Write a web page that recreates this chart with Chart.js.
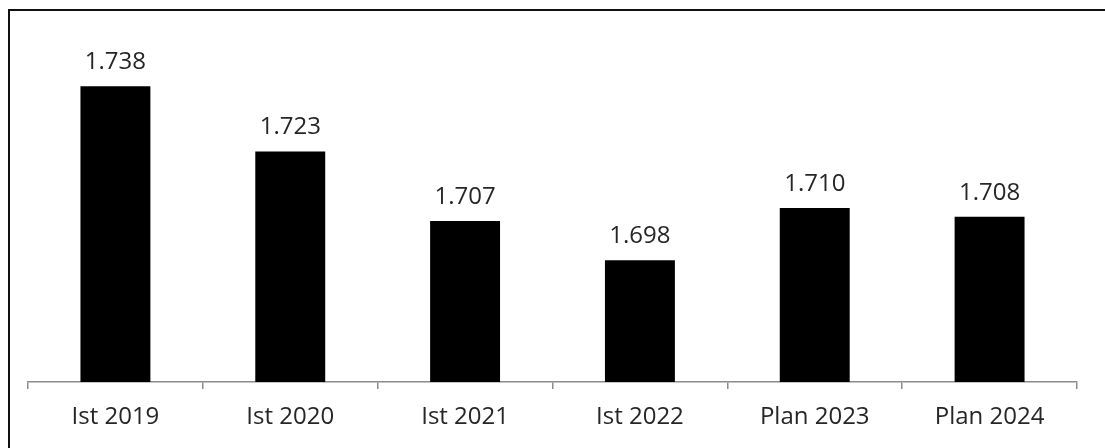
<!DOCTYPE html>
<html>
<head>
<meta charset="utf-8">
<script src="https://cdn.jsdelivr.net/npm/chart.js@4"></script>
<style>
    html, body { margin: 0; padding: 0; background: #fff; }
    body { width: 1105px; height: 448px; overflow: hidden; position: relative; }
    #frame {
        position: absolute; left: 8px; top: 9px; width: 1120px; height: 460px;
        border-left: 2px solid #111; border-top: 2px solid #111;
    }
    #wrap { position: absolute; left: 0; top: 0; width: 1105px; height: 448px; }
</style>
</head>
<body>
<div id="frame"></div>
<div id="wrap"><canvas id="chart"></canvas></div>
<script>
// Data
const categories = ['Ist 2019', 'Ist 2020', 'Ist 2021', 'Ist 2022', 'Plan 2023', 'Plan 2024'];
const values = [1738, 1723, 1707, 1698, 1710, 1708];

const fontFamily = '"Open Sans", "Liberation Sans", sans-serif';

// German thousands format: 1738 -> 1.738
function fmt(v) {
    return v.toLocaleString('de-DE');
}

// Value labels above bars
const valueLabels = {
    id: 'valueLabels',
    afterDatasetsDraw(chart) {
        const ctx = chart.ctx;
        const meta = chart.getDatasetMeta(0);
        ctx.save();
        ctx.font = '24px ' + fontFamily;
        ctx.fillStyle = '#262626';
        ctx.textAlign = 'center';
        ctx.textBaseline = 'alphabetic';
        meta.data.forEach((bar, i) => {
            ctx.fillText(fmt(values[i]), bar.x, bar.y - 17);
        });
        ctx.restore();
    }
};

new Chart(document.getElementById('chart'), {
    type: 'bar',
    data: {
        labels: categories,
        datasets: [{
            data: values,
            backgroundColor: '#000000',
            borderWidth: 0,
            barPercentage: 0.4,
            categoryPercentage: 1.0
        }]
    },
    options: {
        responsive: true,
        maintainAspectRatio: false,
        animation: false,
        layout: {
            padding: { left: 28, right: 28, top: 34, bottom: 0 }
        },
        plugins: {
            legend: { display: false },
            tooltip: { enabled: false }
        },
        scales: {
            x: {
                grid: {
                    drawOnChartArea: false,
                    drawTicks: true,
                    tickLength: 7,
                    color: '#8c8c8c',
                    lineWidth: 1.5
                },
                border: { color: '#8c8c8c', width: 1.5 },
                ticks: {
                    color: '#262626',
                    font: { family: fontFamily, size: 24 },
                    padding: 14
                },
                afterFit(scale) {
                    scale.height = 66;
                }
            },
            y: {
                display: false,
                min: 1670,
                max: 1750
            }
        }
    },
    plugins: [valueLabels]
});
</script>
</body>
</html>
